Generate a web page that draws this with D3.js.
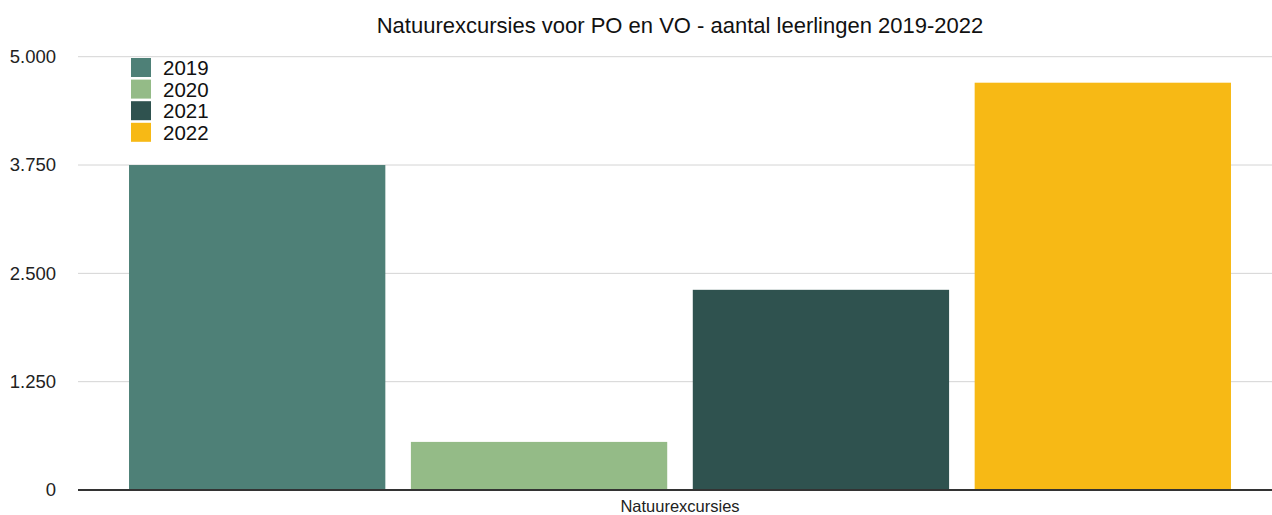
<!DOCTYPE html>
<html>
<head>
<meta charset="utf-8">
<script src="https://cdn.jsdelivr.net/npm/d3@7"></script>
<style>
  html, body { margin: 0; padding: 0; background: #fff; }
  svg { display: block; font-family: "Liberation Sans", Arial, Helvetica, sans-serif; }
</style>
</head>
<body>
<svg id="chart" width="1272" height="515"></svg>
<script>
const title = "Natuurexcursies voor PO en VO - aantal leerlingen 2019-2022";
const categories = ["Natuurexcursies"];
const years = ["2019", "2020", "2021", "2022"];
const values = [3750, 555, 2310, 4700];
const colors = ["#4e8077", "#94bb87", "#2f524f", "#f7b915"];
const yTicks = [0, 1250, 2500, 3750, 5000];
const yTickLabels = ["0", "1.250", "2.500", "3.750", "5.000"];

const svg = d3.select("#chart");
const W = 1272, H = 515;
const y = d3.scaleLinear().domain([0, 5000]).range([490, 56.7]);
const x0 = d3.scaleBand().domain(categories).range([78, 1282]).paddingInner(0).paddingOuter(0.0463);
const x1 = d3.scaleBand().domain(years).range([0, x0.bandwidth()]).paddingInner(0.0907).paddingOuter(0);

// gridlines
svg.append("g").selectAll("line").data(yTicks.filter(d => d > 0)).join("line")
  .attr("x1", 78).attr("x2", W)
  .attr("y1", d => y(d)).attr("y2", d => y(d))
  .attr("stroke", "#d4d4d4").attr("stroke-width", 1);

// y labels
const yAxis = d3.axisLeft(y).tickValues(yTicks).tickSize(0).tickPadding(0)
  .tickFormat((d, i) => yTickLabels[i]);
const ya = svg.append("g").attr("transform", "translate(56,0)").call(yAxis);
ya.select(".domain").remove();
ya.selectAll("text").attr("font-size", 18.5).attr("fill", "#222")
  .attr("font-family", "'Liberation Sans', Arial, sans-serif");

// bars
const rows = years.map((yr, i) => ({ cat: categories[0], year: yr, value: values[i], color: colors[i] }));
svg.append("g").selectAll("rect").data(rows).join("rect")
  .attr("x", d => x0(d.cat) + x1(d.year))
  .attr("width", x1.bandwidth())
  .attr("y", d => y(d.value))
  .attr("height", d => y(0) - y(d.value))
  .attr("fill", d => d.color);

// x axis
const xAxis = d3.axisBottom(x0).tickSize(0).tickPadding(10);
const xa = svg.append("g").attr("transform", `translate(0,${y(0)})`).call(xAxis);
xa.select(".domain").remove();
xa.selectAll("text").attr("font-size", 16.5).attr("fill", "#222")
  .attr("font-family", "'Liberation Sans', Arial, sans-serif");
svg.append("line").attr("x1", 78).attr("x2", W).attr("y1", y(0)).attr("y2", y(0))
  .attr("stroke", "#333").attr("stroke-width", 2);

// title
svg.append("text").attr("x", 680).attr("y", 33).attr("text-anchor", "middle")
  .attr("font-size", 22).attr("fill", "#111").text(title);

// legend
const lg = svg.append("g").attr("transform", "translate(131,58)");
const li = lg.selectAll("g").data(rows).join("g")
  .attr("transform", (d, i) => `translate(0,${i * 21.6})`);
li.append("rect").attr("width", 20).attr("height", 19).attr("fill", d => d.color);
li.append("text").attr("x", 32).attr("y", 17).attr("font-size", 20.5).attr("fill", "#111")
  .text(d => d.year);
</script>
</body>
</html>
